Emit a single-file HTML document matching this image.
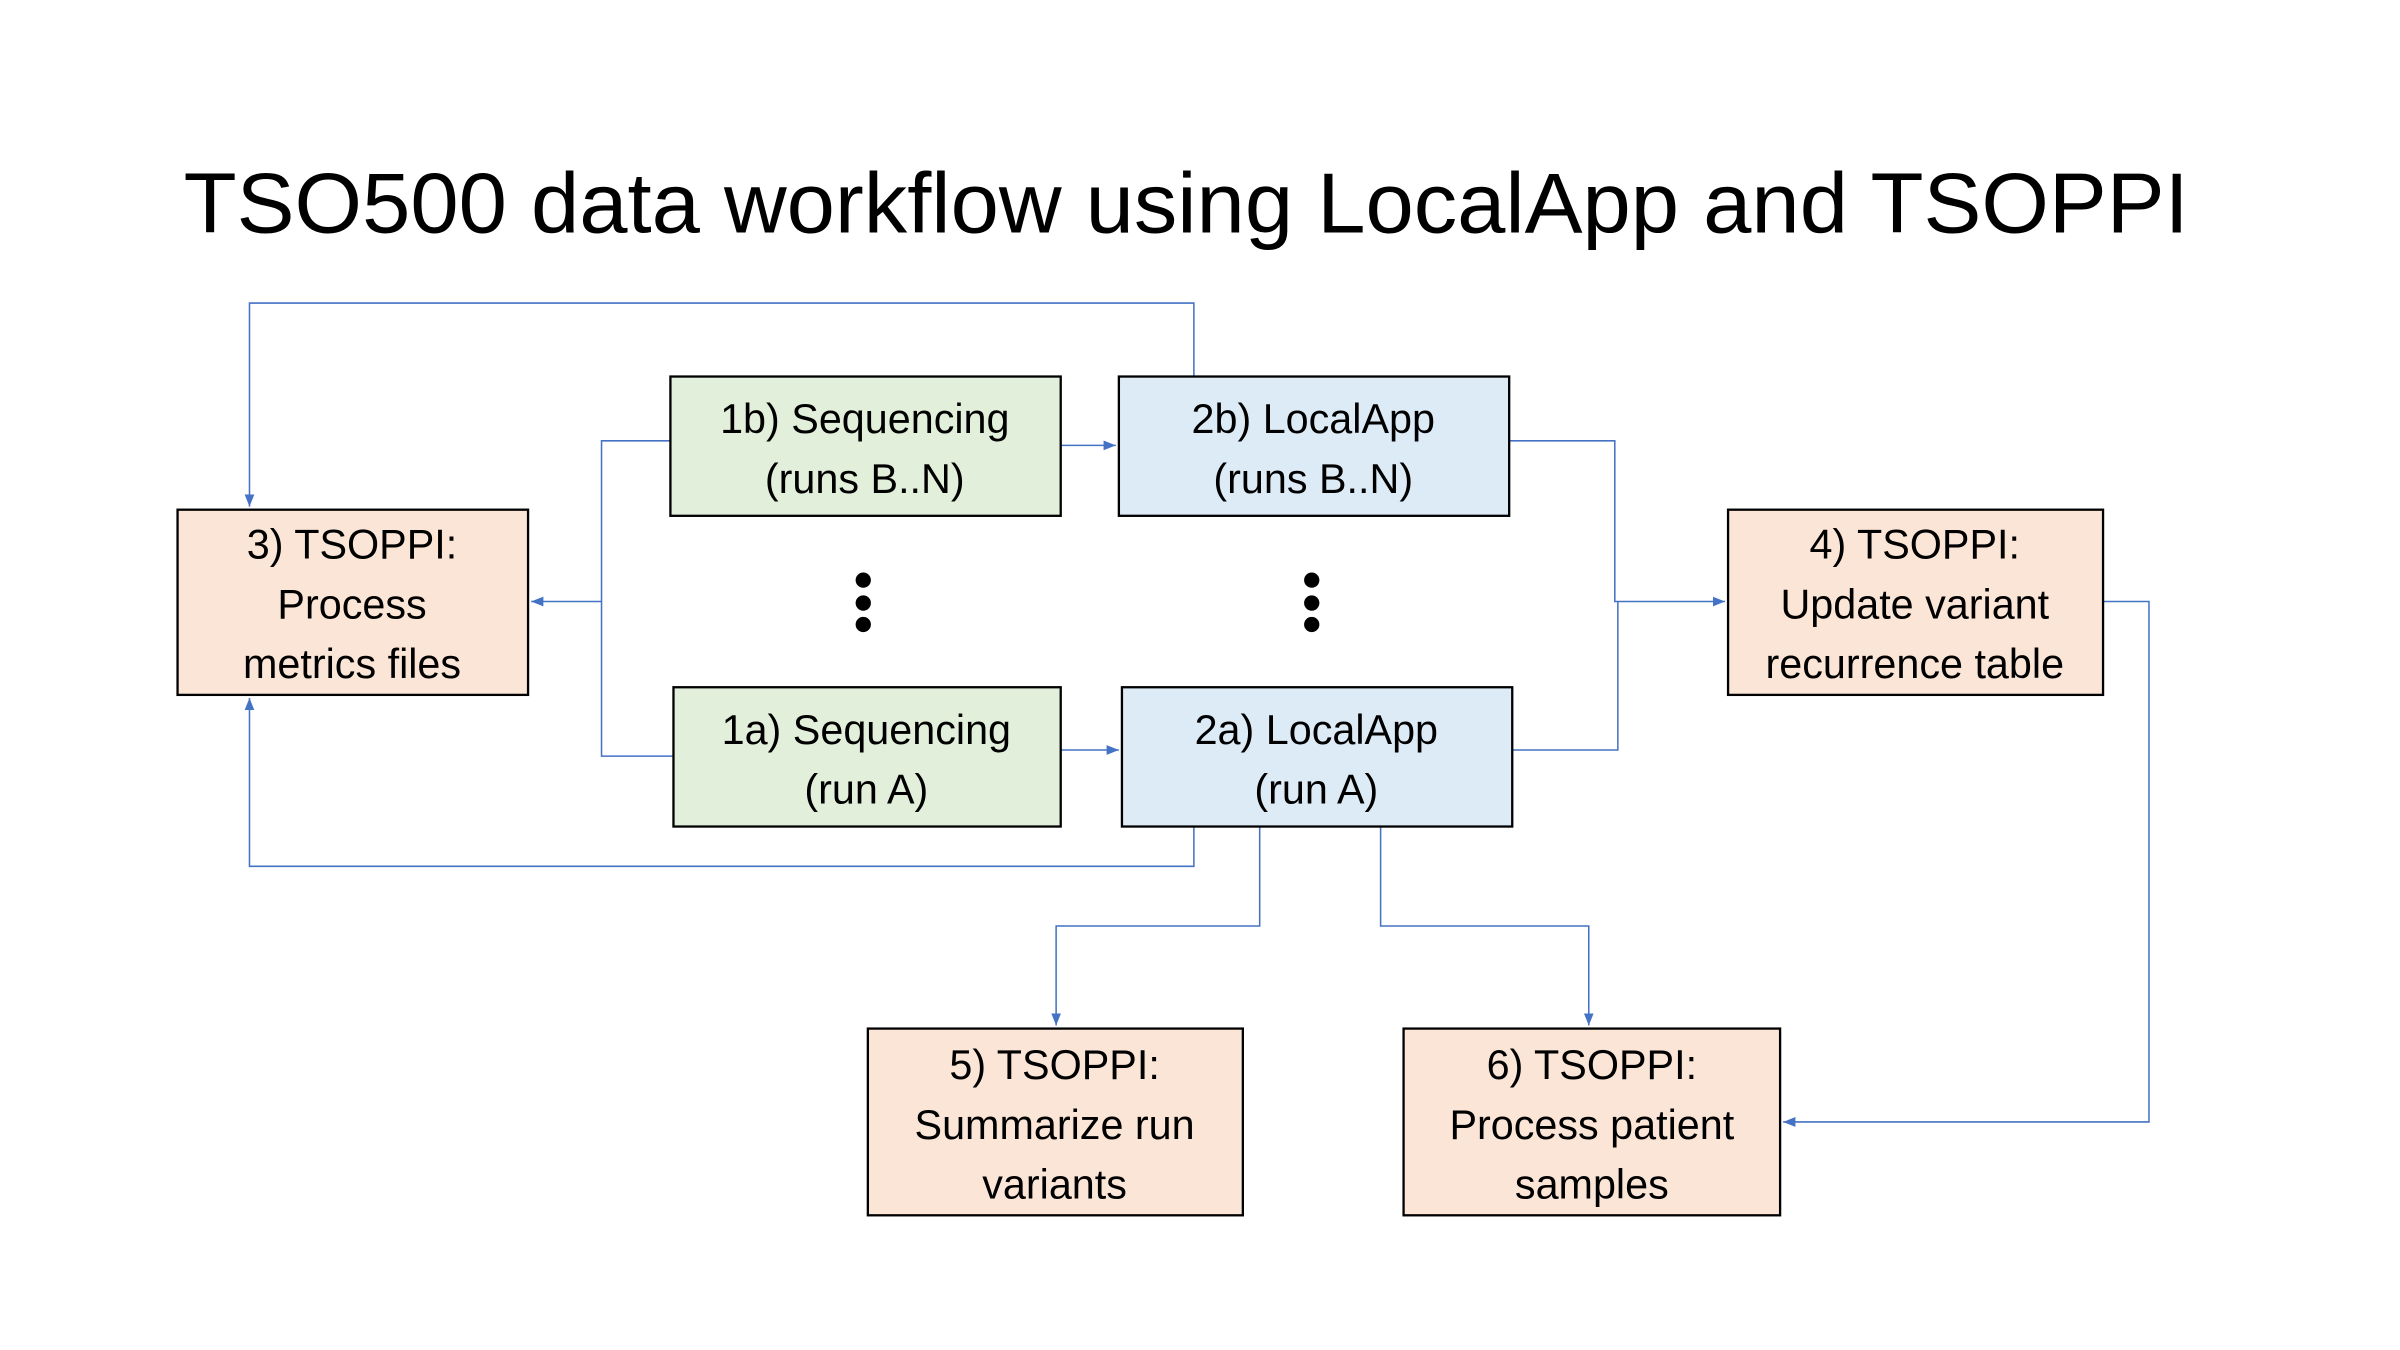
<!DOCTYPE html>
<html><head><meta charset="utf-8"><style>
html,body{margin:0;padding:0;background:#fff;}
svg{display:block;}
text{font-family:"Liberation Sans",sans-serif;fill:#000;}
</style></head><body>
<svg width="2400" height="1350" viewBox="0 0 1568 882" preserveAspectRatio="none" xmlns="http://www.w3.org/2000/svg">
<defs><marker id="a" viewBox="0 0 10 10" refX="10" refY="5" markerWidth="8" markerHeight="8" markerUnits="userSpaceOnUse" orient="auto"><path d="M0,1L10,5L0,9z" fill="#4472C4"/></marker></defs>
<text x="775" y="152" font-size="56" text-anchor="middle" textLength="1310" lengthAdjust="spacingAndGlyphs">TSO500 data workflow using LocalApp and TSOPPI</text>
<g fill="none" stroke="#4472C4" stroke-width="1">
<path d="M780,246V198H163V331" marker-end="url(#a)"/>
<path d="M780,540V566H163V456" marker-end="url(#a)"/>
<path d="M438,288H393V494H440"/>
<path d="M393,393H347" marker-end="url(#a)"/>
<path d="M693,291H729" marker-end="url(#a)"/>
<path d="M693,490H731" marker-end="url(#a)"/>
<path d="M986,288H1055V393H1127" marker-end="url(#a)"/>
<path d="M988,490H1057V393"/>
<path d="M823,540V605H690V670" marker-end="url(#a)"/>
<path d="M902,540V605H1038V670" marker-end="url(#a)"/>
<path d="M1374,393H1404V733H1165" marker-end="url(#a)"/>
</g>
<g stroke="#000" stroke-width="1.5">
<rect x="438" y="246" width="255" height="91" fill="#E2EFDA"/>
<rect x="731" y="246" width="255" height="91" fill="#DDEBF7"/>
<rect x="116" y="333" width="229" height="121" fill="#FBE5D6"/>
<rect x="440" y="449" width="253" height="91" fill="#E2EFDA"/>
<rect x="733" y="449" width="255" height="91" fill="#DDEBF7"/>
<rect x="1129" y="333" width="245" height="121" fill="#FBE5D6"/>
<rect x="567" y="672" width="245" height="122" fill="#FBE5D6"/>
<rect x="917" y="672" width="246" height="122" fill="#FBE5D6"/>
</g>
<g fill="#000">
<circle cx="564" cy="379" r="5"/><circle cx="564" cy="394" r="5"/><circle cx="564" cy="408" r="5"/>
<circle cx="857" cy="379" r="5"/><circle cx="857" cy="394" r="5"/><circle cx="857" cy="408" r="5"/>
</g>
<g font-size="27" text-anchor="middle">
<text x="565" y="283">1b) Sequencing</text><text x="565" y="322">(runs B..N)</text>
<text x="858" y="283">2b) LocalApp</text><text x="858" y="322">(runs B..N)</text>
<text x="230" y="365">3) TSOPPI:</text><text x="230" y="404">Process</text><text x="230" y="443">metrics files</text>
<text x="566" y="486">1a) Sequencing</text><text x="566" y="525">(run A)</text>
<text x="860" y="486">2a) LocalApp</text><text x="860" y="525">(run A)</text>
<text x="1251" y="365">4) TSOPPI:</text><text x="1251" y="404">Update variant</text><text x="1251" y="443">recurrence table</text>
<text x="689" y="705">5) TSOPPI:</text><text x="689" y="744">Summarize run</text><text x="689" y="783">variants</text>
<text x="1040" y="705">6) TSOPPI:</text><text x="1040" y="744">Process patient</text><text x="1040" y="783">samples</text>
</g>
</svg>
</body></html>
